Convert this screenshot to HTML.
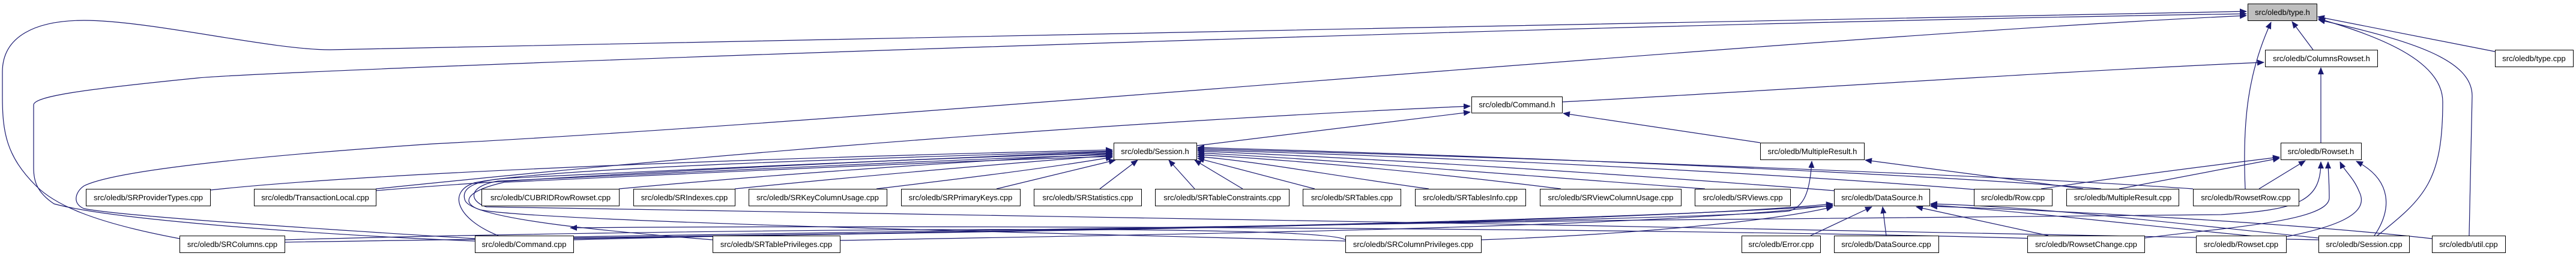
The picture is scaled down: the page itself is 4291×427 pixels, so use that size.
<!DOCTYPE html>
<html><head><meta charset="utf-8"><style>
html,body{margin:0;padding:0;background:#fff;}
svg{display:block;}
text{font-family:"Liberation Sans",sans-serif;font-size:13px;fill:#000;}
</style></head><body>
<svg width="4291" height="427" viewBox="0 0 4291 427" xmlns="http://www.w3.org/2000/svg">
<defs>
<marker id="a" markerWidth="12" markerHeight="10" refX="11" refY="5" orient="auto" markerUnits="userSpaceOnUse">
<path d="M0,0 L12,5 L0,10 Z" fill="#191970"/>
</marker>
</defs>
<g fill="none" stroke="#191970" stroke-width="1.2" marker-end="url(#a)">
<!-- to type.h -->
<path d="M3853 83 L3818 36"/>
<path d="M4156 86 L3861 28"/>
<path d="M3960 393 C4040 330,4069 300,4069 170 C4069 100,3960 60,3862 31"/>
<path d="M4113 393 L4118 160 C4118 100,4020 68,3862 33"/>
<path d="M3740 315 C3735 200,3745 120,3783 37"/>
<path d="M299 398 C150 370,90 340,60 310 C10 260,4 220,4 160 L4 120 C4 60,60 34,140 34 C250 34,450 83,550 83 C700 83,3000 30,3742 19"/>
<path d="M791 402 C600 395,200 370,90 340 C60 320,56 300,56 280 L56 175 C56 160,150 148,330 130 C500 115,2600 40,3742 23"/>
<path d="M791 398 C500 380,200 360,140 348 C120 340,125 320,140 310 C200 280,500 255,720 240 C1500 200,3000 60,3742 26"/>
<!-- to ColumnsRowset.h -->
<path d="M3866 238 L3866 113"/>
<path d="M2602 170 C2900 155,3400 120,3771 104"/>
<!-- to Command.h -->
<path d="M626 315 C700 308,1500 220,2449 177"/>
<path d="M1993 243 L2449 187"/>
<path d="M2932 238 L2604 189"/>
<!-- to MultipleResult.h -->
<path d="M3470 315 L3107 267"/>
<path d="M955 400 C1500 385,2800 370,2980 352 C3005 345,3015 320,3018 269"/>
<!-- to Rowset.h -->
<path d="M3530 315 L3797 264"/>
<path d="M3400 315 C3500 300,3650 280,3797 262"/>
<path d="M3763 315 L3840 268"/>
<path d="M3808 395 C3880 380,3950 360,3930 320 C3920 295,3905 285,3898 270"/>
<path d="M3955 393 C3985 350,3985 300,3925 269"/>
<path d="M3572 397 C3700 380,3880 370,3880 330 C3880 300,3878 285,3878 270"/>
<path d="M955 395 C1500 380,2800 365,3700 358 C3830 350,3866 335,3866 270"/>
<!-- to DataSource.h -->
<path d="M3016 393 L3118 345"/>
<path d="M3142 393 L3136 345"/>
<path d="M3412 393 L3192 345"/>
<path d="M3862 397 C3600 370,3400 345,3216 340"/>
<path d="M3808 399 C3600 380,3400 355,3216 342"/>
<path d="M4051 398 C3800 370,3400 350,3216 344"/>
<path d="M955 398 C1500 388,2700 375,3053 340"/>
<path d="M474 404 C1000 395,2500 380,3053 343"/>
<path d="M2467 400 C2700 392,2950 370,3053 345"/>
<path d="M1399 401 C2000 390,2800 378,3053 342"/>
<!-- to Session.h from row 3 left -->
<path d="M350 317 C600 290,1200 265,1853 250"/>
<path d="M626 318 C900 295,1400 270,1853 253"/>
<path d="M1031 315 C1300 290,1600 270,1853 256"/>
<path d="M1224 315 C1450 292,1650 275,1853 259"/>
<path d="M1460 315 C1600 298,1750 280,1853 262"/>
<path d="M1660 315 L1858 267"/>
<path d="M1832 315 L1895 267"/>
<path d="M1990 315 L1947 267"/>
<path d="M2070 315 L1990 267"/>
<path d="M2190 315 L1995 264"/>
<path d="M2380 315 C2200 290,2100 270,1995 261"/>
<path d="M2600 315 C2400 290,2200 270,1995 258"/>
<path d="M2840 315 C2500 290,2200 265,1995 255"/>
<path d="M3055 318 C2700 290,2300 265,1995 252"/>
<path d="M3288 316 C2900 285,2400 262,1995 250"/>
<path d="M3653 315 C3300 290,2500 262,1995 248"/>
<path d="M3500 315 C3200 290,2500 260,1995 246"/>
<!-- bottom row to Session.h via left bundle -->
<path d="M830 393 C760 365,745 320,790 305 C900 280,1500 262,1853 252"/>
<path d="M1187 400 C1000 385,790 365,775 335 C765 310,800 300,850 297 C1200 280,1600 262,1853 255"/>
<path d="M3862 400 C3000 375,1200 360,810 345 C780 335,780 310,830 302 C1200 285,1600 265,1853 258"/>
<path d="M474 400 C1000 385,2200 370,2241 400" marker-end="none"/>
<path d="M2241 402 C1800 390,900 370,800 350 C770 340,770 320,840 304 C1200 287,1600 268,1853 261"/>
<path d="M3572 404 C3000 380,1500 375,950 380"/>
</g>
<g stroke="#000" stroke-width="1" fill="#fff">
<rect x="3744.5" y="6.5" width="115" height="28" fill="#bfbfbf"/>
<rect x="3773.5" y="83.5" width="187" height="28"/>
<rect x="4156.5" y="83.5" width="130" height="28"/>
<rect x="2451.5" y="161.5" width="151" height="27"/>
<rect x="1855.5" y="238.5" width="138" height="28"/>
<rect x="2932.5" y="238.5" width="173" height="28"/>
<rect x="3799.5" y="238.5" width="134" height="28"/>
<rect x="143.5" y="315.5" width="207" height="28"/>
<rect x="423.5" y="315.5" width="203" height="28"/>
<rect x="802.5" y="315.5" width="229" height="28"/>
<rect x="1055.5" y="315.5" width="169" height="28"/>
<rect x="1247.5" y="315.5" width="230" height="28"/>
<rect x="1501.5" y="315.5" width="198" height="28"/>
<rect x="1722.5" y="315.5" width="179" height="28"/>
<rect x="1924.5" y="315.5" width="223" height="28"/>
<rect x="2170.5" y="315.5" width="163" height="28"/>
<rect x="2357.5" y="315.5" width="184" height="28"/>
<rect x="2565.5" y="315.5" width="235" height="28"/>
<rect x="2823.5" y="315.5" width="159" height="28"/>
<rect x="3055.5" y="315.5" width="159" height="28"/>
<rect x="3288.5" y="315.5" width="130" height="28"/>
<rect x="3442.5" y="315.5" width="187" height="28"/>
<rect x="3653.5" y="315.5" width="176" height="28"/>
<rect x="299.5" y="393.5" width="175" height="28"/>
<rect x="791.5" y="393.5" width="164" height="28"/>
<rect x="1187.5" y="393.5" width="212" height="28"/>
<rect x="2241.5" y="393.5" width="226" height="28"/>
<rect x="2901.5" y="393.5" width="131" height="28"/>
<rect x="3055.5" y="393.5" width="174" height="28"/>
<rect x="3377.5" y="393.5" width="195" height="28"/>
<rect x="3658.5" y="393.5" width="150" height="28"/>
<rect x="3862.5" y="393.5" width="151" height="28"/>
<rect x="4051.5" y="393.5" width="122" height="28"/>
</g>
<g text-anchor="middle">
<text x="3802" y="25">src/oledb/type.h</text>
<text x="3867" y="102">src/oledb/ColumnsRowset.h</text>
<text x="4221" y="102">src/oledb/type.cpp</text>
<text x="2527" y="179">src/oledb/Command.h</text>
<text x="1924" y="257">src/oledb/Session.h</text>
<text x="3019" y="257">src/oledb/MultipleResult.h</text>
<text x="3866" y="257">src/oledb/Rowset.h</text>
<text x="247" y="334">src/oledb/SRProviderTypes.cpp</text>
<text x="525" y="334">src/oledb/TransactionLocal.cpp</text>
<text x="917" y="334">src/oledb/CUBRIDRowRowset.cpp</text>
<text x="1140" y="334">src/oledb/SRIndexes.cpp</text>
<text x="1362" y="334">src/oledb/SRKeyColumnUsage.cpp</text>
<text x="1600" y="334">src/oledb/SRPrimaryKeys.cpp</text>
<text x="1812" y="334">src/oledb/SRStatistics.cpp</text>
<text x="2036" y="334">src/oledb/SRTableConstraints.cpp</text>
<text x="2252" y="334">src/oledb/SRTables.cpp</text>
<text x="2449" y="334">src/oledb/SRTablesInfo.cpp</text>
<text x="2683" y="334">src/oledb/SRViewColumnUsage.cpp</text>
<text x="2903" y="334">src/oledb/SRViews.cpp</text>
<text x="3135" y="334">src/oledb/DataSource.h</text>
<text x="3353" y="334">src/oledb/Row.cpp</text>
<text x="3536" y="334">src/oledb/MultipleResult.cpp</text>
<text x="3741" y="334">src/oledb/RowsetRow.cpp</text>
<text x="387" y="412">src/oledb/SRColumns.cpp</text>
<text x="873" y="412">src/oledb/Command.cpp</text>
<text x="1293" y="412">src/oledb/SRTablePrivileges.cpp</text>
<text x="2354" y="412">src/oledb/SRColumnPrivileges.cpp</text>
<text x="2967" y="412">src/oledb/Error.cpp</text>
<text x="3142" y="412">src/oledb/DataSource.cpp</text>
<text x="3475" y="412">src/oledb/RowsetChange.cpp</text>
<text x="3733" y="412">src/oledb/Rowset.cpp</text>
<text x="3938" y="412">src/oledb/Session.cpp</text>
<text x="4112" y="412">src/oledb/util.cpp</text>
</g>
</svg>
</body></html>
